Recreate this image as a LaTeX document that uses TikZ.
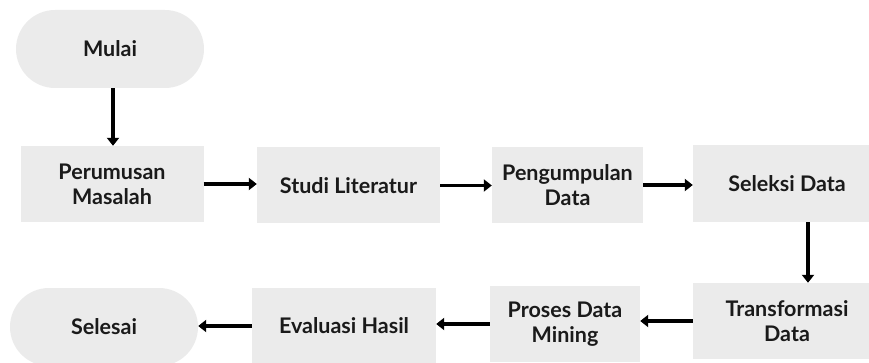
\documentclass[tikz,border=0pt]{standalone}
\usepackage{fontspec}
\setmainfont{Lato}
\usetikzlibrary{arrows.meta}
\definecolor{boxgray}{HTML}{EBEBEB}
\definecolor{inkblack}{HTML}{1A1A1A}
\tikzset{stepbox/.style={fill=boxgray, minimum width=183pt, minimum height=76pt, inner sep=0pt, align=center, text=inkblack, font=\fontsize{21.5}{25}\selectfont\bfseries}, endbox/.style={stepbox, rounded corners=39pt, minimum width=188pt, minimum height=78pt}, flow/.style={-{Triangle[length=8pt,width=12pt]}, line width=3.5pt, color=black}}

\begin{document}
\begin{tikzpicture}[x=1pt,y=-1pt]
\useasboundingbox (0,0) rectangle (869,363);
\node[endbox] (mulai) at (110,49) {Mulai};
\node[stepbox] (rumus) at (112,184) {Perumusan\\Masalah};
\node[stepbox] (studi) at (348.5,185.5) {Studi Literatur};
\node[stepbox, minimum width=151pt] (kumpul) at (567.5,185) {Pengumpulan\\Data};
\node[stepbox, minimum width=188pt, minimum height=77pt] (seleksi) at (787,183.5) {Seleksi Data};
\node[stepbox, minimum width=188pt] (transform) at (787,321) {Transformasi\\Data};
\node[stepbox, minimum width=150pt] (proses) at (565,324) {Proses Data\\Mining};
\node[stepbox, minimum width=184pt] (evaluasi) at (344,326) {Evaluasi Hasil};
\node[endbox] (selesai) at (104,327) {Selesai};
% alur
\draw[flow] (mulai.south -| 113,0) -- (rumus.north -| 113,0);
\draw[flow] (rumus.east) -- (studi.west |- rumus.east);
\draw[flow] (studi.east) -- (kumpul.west |- studi.east);
\draw[flow] (kumpul.east) -- (seleksi.west |- kumpul.east);
\draw[flow] ([xshift=21pt]seleksi.south) -- ([xshift=21pt]transform.north);
\draw[flow] (transform.west) -- (proses.east |- transform.west);
\draw[flow] (proses.west) -- (evaluasi.east |- proses.west);
\draw[flow] (evaluasi.west) -- (selesai.east |- evaluasi.west);
\end{tikzpicture}
\end{document}
